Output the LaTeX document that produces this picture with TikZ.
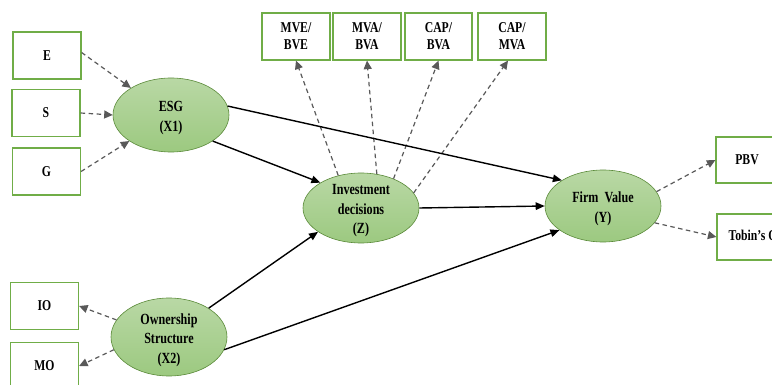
\documentclass[tikz,border=0pt]{standalone}
\usepackage{fontspec}
\setmainfont{Liberation Serif}[FakeStretch=0.78]
\usetikzlibrary{arrows.meta,shapes.geometric}
\definecolor{boxgreen}{HTML}{70AD47}
\definecolor{elltop}{HTML}{B9D8A5}
\definecolor{ellbot}{HTML}{9CC980}
\definecolor{dashgray}{HTML}{595959}
\begin{document}
\begin{tikzpicture}[x=1pt,y=-1pt,
  ind/.style={draw=boxgreen,line width=1.2pt,fill=white,rectangle,inner sep=0pt,
    minimum width=68pt,minimum height=47pt,align=center,
    font=\bfseries\fontsize{15}{17}\selectfont},
  latent/.style={draw=boxgreen!80!black,line width=0.6pt,ellipse,inner sep=0pt,
    top color=elltop,bottom color=ellbot},
  ltext/.style={align=center,inner sep=0pt,font=\bfseries\fontsize{15.5}{19.5}\selectfont},
  dasharrow/.style={draw=dashgray,line width=1.2pt,dash pattern=on 4.5pt off 3.5pt,
    -{Triangle[length=8.5pt,width=8pt]}},
  solidarrow/.style={draw=black,line width=1.4pt,-{Triangle[length=9pt,width=7.5pt]}}
]
\useasboundingbox (0,0) rectangle (772,385);
\clip (0,0) rectangle (772,385);
% indicator boxes
\node[ind] (E) at (47,55.5) {E};
\node[ind] (S) at (46,113) {S};
\node[ind] (G) at (46.5,171.5) {G};
\node[ind] (IO) at (44.5,306) {IO};
\node[ind] (MO) at (44.5,366) {MO};
\node[ind] (MVE) at (296,36.5) {MVE/\\BVE};
\node[ind] (MVA) at (367,36.5) {MVA/\\BVA};
\node[ind,minimum width=67pt] (CAPB) at (438.5,36.5) {CAP/\\BVA};
\node[ind] (CAPM) at (512,36.5) {CAP/\\MVA};
\node[ind,minimum width=62pt,minimum height=46pt] (PBV) at (747,160) {PBV};
\node[ind,minimum width=72pt,minimum height=46pt] (TQ) at (753,237) {Tobin's Q};
% latent variables
\node[latent,minimum width=116pt,minimum height=74pt] (esg) at (171,115) {};
\node[latent,minimum width=116pt,minimum height=70pt] (inv) at (361,208) {};
\node[latent,minimum width=116pt,minimum height=72pt] (firm) at (603,206) {};
\node[latent,minimum width=116pt,minimum height=78pt] (own) at (169,337) {};
\node[ltext] (esgt) at (171,118) {ESG\\(X1)};
\node[ltext] (invt) at (361,211) {Investment\\decisions\\(Z)};
\node[ltext] (firmt) at (603,209) {Firm~~Value\\(Y)};
\node[ltext] (ownt) at (169,340) {Ownership\\Structure\\(X2)};
% dashed measurement arrows
\draw[dasharrow] (E.east) ++(0,-3) -- (esg.146);
\draw[dasharrow] (S.east) -- (esg.west);
\draw[dasharrow] (G.east) -- (esg.212.7);
\draw[dasharrow] (own.162) -- (IO.east);
\draw[dasharrow] (own.193.8) -- (MO.east);
\draw[dasharrow] (inv.125) -- (MVE.south);
\draw[dasharrow] (inv.65) -- (MVA.south);
\draw[dasharrow] (inv.42) -- (CAPB.south);
\draw[dasharrow] (inv.16) -- ([xshift=-4pt]CAPM.south);
\draw[dasharrow] (firm.15.4) -- (PBV.west);
\draw[dasharrow] (firm.-18.4) -- (TQ.west);
% structural paths
\draw[solidarrow] (esg.9.8) -- (firm.148.8);
\draw[solidarrow] (esg.-32.7) -- (inv.148.8);
\draw[solidarrow] (inv.east) -- (firm.west);
\draw[solidarrow] (own.36.2) -- (inv.209.2);
\draw[solidarrow] (own.-13.8) -- (firm.209.2);
\end{tikzpicture}
\end{document}
